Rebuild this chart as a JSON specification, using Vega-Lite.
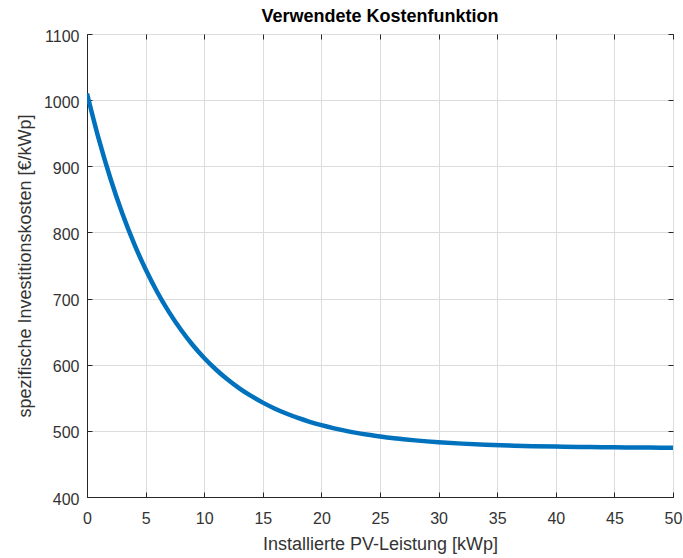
{
  "$schema": "https://vega.github.io/schema/vega-lite/v6.json",
  "width": 586,
  "height": 463,
  "autosize": {"type": "none"},
  "padding": {"left": 87, "top": 34, "right": 10, "bottom": 61},
  "background": "white",
  "config": {
    "font": "Liberation Sans",
    "view": {"stroke": "#262626", "strokeWidth": 1},
    "axis": {
      "labelFont": "Liberation Sans",
      "titleFont": "Liberation Sans",
      "labelColor": "#333333",
      "titleColor": "#333333",
      "domainColor": "#262626",
      "tickColor": "#262626",
      "gridColor": "#dcdcdc",
      "gridOpacity": 1,
      "labelFontSize": 16,
      "titleFontSize": 18,
      "titleFontWeight": "normal"
    }
  },
  "title": {
    "text": "Verwendete Kostenfunktion",
    "fontSize": 18,
    "fontWeight": "bold",
    "font": "Liberation Sans",
    "color": "#000000",
    "offset": 2
  },
  "data": {
    "values": [
      {"p": 0, "k": 1010},
      {"p": 1, "k": 941.4},
      {"p": 2, "k": 881.6},
      {"p": 3, "k": 829.4},
      {"p": 4, "k": 783.9},
      {"p": 5, "k": 744.2},
      {"p": 6, "k": 709.6},
      {"p": 7, "k": 679.5},
      {"p": 8, "k": 653.2},
      {"p": 9, "k": 630.2},
      {"p": 10, "k": 610.2},
      {"p": 11, "k": 592.8},
      {"p": 12, "k": 577.6},
      {"p": 13, "k": 564.3},
      {"p": 14, "k": 552.8},
      {"p": 15, "k": 542.7},
      {"p": 16, "k": 533.9},
      {"p": 17, "k": 526.2},
      {"p": 18, "k": 519.5},
      {"p": 19, "k": 513.7},
      {"p": 20, "k": 508.6},
      {"p": 21, "k": 504.2},
      {"p": 22, "k": 500.3},
      {"p": 23, "k": 496.9},
      {"p": 24, "k": 494.0},
      {"p": 25, "k": 491.5},
      {"p": 26, "k": 489.2},
      {"p": 27, "k": 487.3},
      {"p": 28, "k": 485.6},
      {"p": 29, "k": 484.1},
      {"p": 30, "k": 482.8},
      {"p": 32, "k": 480.7},
      {"p": 34, "k": 479.1},
      {"p": 36, "k": 477.9},
      {"p": 38, "k": 476.9},
      {"p": 40, "k": 476.2},
      {"p": 42, "k": 475.7},
      {"p": 44, "k": 475.3},
      {"p": 46, "k": 475.0},
      {"p": 48, "k": 474.7},
      {"p": 50, "k": 474.6}
    ]
  },
  "layer": [
    {
      "mark": {"type": "line", "color": "#0072BD", "strokeWidth": 4.5, "interpolate": "monotone", "clip": true},
      "encoding": {
        "x": {
          "field": "p", "type": "quantitative",
          "scale": {"domain": [0, 50], "nice": false, "zero": false},
          "axis": {"orient": "bottom", "title": "Installierte PV-Leistung [kWp]", "values": [0,5,10,15,20,25,30,35,40,45,50], "format": "d", "tickSize": -5, "labelPadding": 18, "titlePadding": 9, "labelFlush": false, "labelOverlap": false}
        },
        "y": {
          "field": "k", "type": "quantitative",
          "scale": {"domain": [400, 1100], "nice": false, "zero": false},
          "axis": {"orient": "left", "title": "spezifische Investitionskosten [€/kWp]", "values": [400,500,600,700,800,900,1000,1100], "format": "d", "tickSize": -5, "labelPadding": 13, "labelOffset": 2, "titlePadding": 9, "labelFlush": false, "labelOverlap": false}
        }
      }
    },
    {
      "mark": {"type": "line", "opacity": 0},
      "encoding": {
        "x": {
          "field": "p", "type": "quantitative",
          "axis": {"orient": "top", "title": null, "labels": false, "grid": false, "domain": false, "values": [0,5,10,15,20,25,30,35,40,45,50], "tickSize": -5}
        },
        "y": {
          "field": "k", "type": "quantitative",
          "axis": {"orient": "right", "title": null, "labels": false, "grid": false, "domain": false, "values": [400,500,600,700,800,900,1000,1100], "tickSize": -5}
        }
      }
    }
  ],
  "resolve": {"axis": {"x": "independent", "y": "independent"}}
}
